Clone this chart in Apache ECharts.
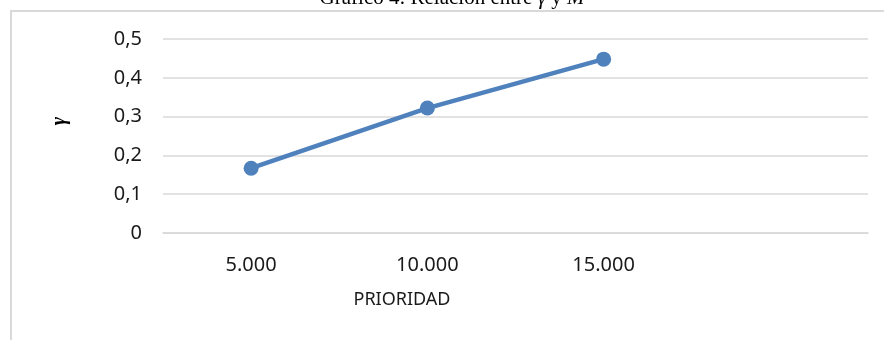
<!DOCTYPE html>
<html>
<head>
<meta charset="utf-8">
<script src="https://cdn.jsdelivr.net/npm/echarts@6/dist/echarts.min.js"></script>
<style>html,body{margin:0;padding:0;background:#fff;}#c{width:884px;height:340px;}</style>
</head>
<body>
<div id="c"></div>
<script>
const categories = ['5.000', '10.000', '15.000', ''];
const gammaValues = [0.167, 0.322, 0.448, null];
const yTicks = { min: 0, max: 0.5, interval: 0.1 };
const titleParts = ['Gráfico 4: Relación entre ', 'γ', ' y ', 'M'];
const xName = 'PRIORIDAD';
const yName = 'γ';

const chart = echarts.init(document.getElementById('c'), null, { renderer: 'canvas' });
chart.setOption({
  animation: false,
  backgroundColor: '#ffffff',
  grid: { left: 163, right: 16, top: 39, bottom: 107 },
  xAxis: {
    type: 'category',
    data: categories,
    boundaryGap: true,
    axisLine: { show: true, lineStyle: { color: '#d9d9d9', width: 1.5 } },
    axisTick: { show: false },
    axisLabel: { margin: 22, color: '#1a1a1a', fontFamily: 'Noto Sans', fontSize: 20 }
  },
  yAxis: {
    type: 'value',
    min: yTicks.min, max: yTicks.max, interval: yTicks.interval,
    axisLine: { show: false },
    axisTick: { show: false },
    splitLine: { lineStyle: { color: '#d9d9d9', width: 1.5 } },
    axisLabel: {
      margin: 21, color: '#1a1a1a', fontFamily: 'Noto Sans', fontSize: 20,
      formatter: v => String(Math.round(v * 10) / 10).replace('.', ',')
    }
  },
  series: [{
    type: 'line',
    data: gammaValues,
    symbol: 'circle',
    symbolSize: 15,
    lineStyle: { color: '#4f81bd', width: 4.5 },
    itemStyle: { color: '#4f81bd' }
  }],
  graphic: [
    {
      type: 'rect', silent: true,
      shape: { x: 11, y: 11, width: 1000, height: 1000 },
      style: { fill: 'none', stroke: '#d9d9d9', lineWidth: 2 }
    },
    {
      type: 'text', x: 452, y: -1.5,
      style: {
        text: '{n|' + titleParts[0] + '}{i|' + titleParts[1] + '}{n|' + titleParts[2] + '}{i|' + titleParts[3] + '}',
        align: 'center', verticalAlign: 'middle',
        rich: {
          n: { fontFamily: 'Liberation Serif', fontSize: 21, fill: '#000' },
          i: { fontFamily: 'Liberation Serif', fontSize: 21, fontStyle: 'italic', fill: '#000' }
        }
      }
    },
    {
      type: 'text', x: 60, y: 121, rotation: Math.PI / 2,
      style: {
        text: yName, align: 'center', verticalAlign: 'middle',
        font: 'italic bold 20px "Liberation Serif"', fill: '#000'
      }
    },
    {
      type: 'text', x: 402, y: 300,
      style: {
        text: xName, align: 'center', verticalAlign: 'middle',
        font: '18px "Noto Sans"', fill: '#1a1a1a'
      }
    }
  ]
});
</script>
</body>
</html>
